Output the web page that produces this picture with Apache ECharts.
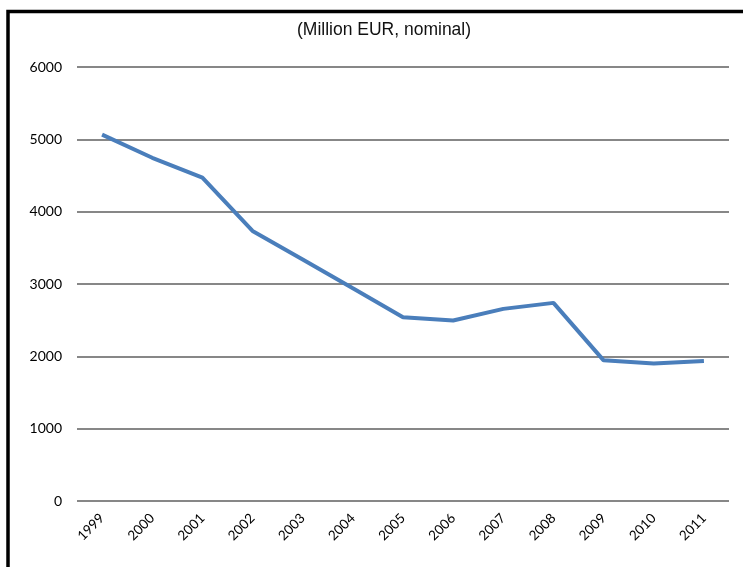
<!DOCTYPE html>
<html>
<head>
<meta charset="utf-8">
<script src="https://cdn.jsdelivr.net/npm/echarts@6/dist/echarts.min.js"></script>
<style>
html,body{margin:0;padding:0;background:#fff;}
#chart{width:743px;height:567px;}
</style>
</head>
<body>
<div id="chart"></div>
<script>
var years = ['1999','2000','2001','2002','2003','2004','2005','2006','2007','2008','2009','2010','2011'];
var values = [5065, 4745, 4470, 3733, 3340, 2940, 2541, 2495, 2656, 2739, 1945, 1900, 1935];
var yTicks = [0, 1000, 2000, 3000, 4000, 5000, 6000];
var titleText = '(Million EUR, nominal)';

var chart = echarts.init(document.getElementById('chart'), null, {renderer: 'canvas'});
chart.setOption({
  animation: false,
  backgroundColor: '#fff',
  title: {
    text: titleText,
    left: 292,
    top: 16,
    textStyle: {fontFamily: 'Liberation Sans', fontSize: 17.5, fontWeight: 'normal', color: '#111'}
  },
  graphic: [{
    type: 'polyline',
    shape: {points: [[8, 567], [8, 11.5], [743, 11.5]]},
    style: {stroke: '#000', lineWidth: 3.5, fill: null}
  }],
  grid: {left: 77, right: 14, top: 67, bottom: 66, containLabel: false},
  xAxis: {
    type: 'category',
    data: years,
    boundaryGap: true,
    axisLine: {show: false},
    axisTick: {show: false},
    axisLabel: {rotate: 45, margin: 15, fontFamily: 'Lato', fontSize: 13.5, color: '#000'}
  },
  yAxis: {
    type: 'value',
    min: yTicks[0],
    max: yTicks[yTicks.length - 1],
    interval: 1000,
    axisLine: {show: false},
    axisTick: {show: false},
    axisLabel: {margin: 15, fontFamily: 'Lato', fontSize: 14, color: '#000', formatter: function (v) { return String(v); }},
    splitLine: {lineStyle: {color: '#878787', width: 2}}
  },
  series: [{
    type: 'line',
    data: values,
    symbol: 'none',
    lineStyle: {color: '#4a7ebb', width: 4}
  }]
});
</script>
</body>
</html>
